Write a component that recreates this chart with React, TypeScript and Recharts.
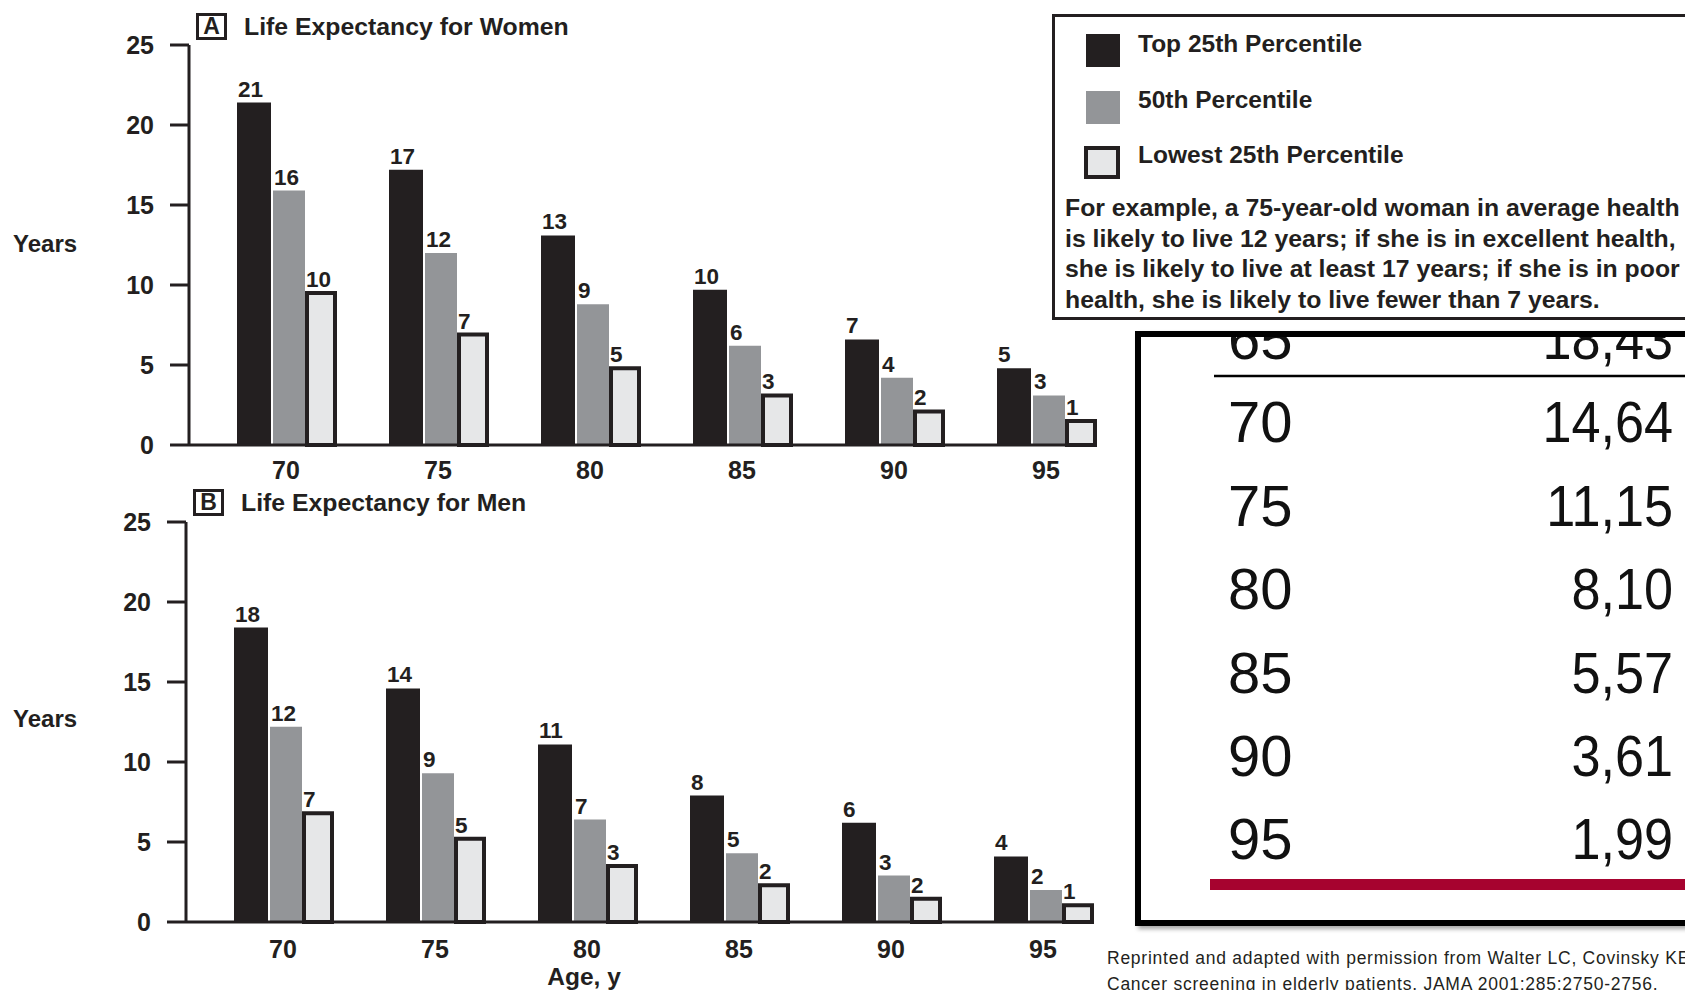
import React from "react";
import { BarChart, Bar, XAxis, YAxis, LabelList } from "recharts";

const AGES = ["70", "75", "80", "85", "90", "95"];
const Y_TICKS = [0, 5, 10, 15, 20, 25];

// bar heights as drawn, and the numbers printed above them
const WOMEN_TOP = [21.4, 17.2, 13.1, 9.7, 6.6, 4.8];
const WOMEN_MID = [15.9, 12.0, 8.8, 6.2, 4.2, 3.1];
const WOMEN_LOW = [9.5, 6.9, 4.8, 3.1, 2.1, 1.5];
const WOMEN_TOP_LABELS = [21, 17, 13, 10, 7, 5];
const WOMEN_MID_LABELS = [16, 12, 9, 6, 4, 3];
const WOMEN_LOW_LABELS = [10, 7, 5, 3, 2, 1];

const MEN_TOP = [18.4, 14.6, 11.1, 7.9, 6.2, 4.1];
const MEN_MID = [12.2, 9.3, 6.4, 4.3, 2.9, 2.0];
const MEN_LOW = [6.8, 5.2, 3.5, 2.3, 1.45, 1.05];
const MEN_TOP_LABELS = [18, 14, 11, 8, 6, 4];
const MEN_MID_LABELS = [12, 9, 7, 5, 3, 2];
const MEN_LOW_LABELS = [7, 5, 3, 2, 2, 1];

const TABLE_AGES = ["65", "70", "75", "80", "85", "90", "95"];
const TABLE_VALUES = ["18,43", "14,64", "11,15", "8,10", "5,57", "3,61", "1,99"];

const INK = "#231f20";
const GRAY = "#939598";
const LIGHT = "#e6e7e8";
const FONT = "'Liberation Sans', Arial, Helvetica, sans-serif";

const buildRows = (top, mid, low, topL, midL, lowL) =>
  AGES.map((age, i) => ({
    age,
    top: top[i],
    mid: mid[i],
    low: low[i],
    topLabel: topL[i],
    midLabel: midL[i],
    lowLabel: lowL[i],
  }));

const womenRows = buildRows(WOMEN_TOP, WOMEN_MID, WOMEN_LOW, WOMEN_TOP_LABELS, WOMEN_MID_LABELS, WOMEN_LOW_LABELS);
const menRows = buildRows(MEN_TOP, MEN_MID, MEN_LOW, MEN_TOP_LABELS, MEN_MID_LABELS, MEN_LOW_LABELS);

const valueLabel = (shift: number) => (props: any) => (
  <text
    x={props.x + shift}
    y={props.y - 6}
    fontSize={22.5}
    fontWeight={700}
    fill={INK}
    textAnchor="start"
  >
    {props.value}
  </text>
);

function PercentileChart({ rows, axisWidth, width, tickMargin }) {
  return (
    <BarChart
      width={width}
      height={500}
      data={rows}
      margin={{ top: 45, right: 4, left: 0, bottom: 25 }}
      barGap={2}
    >
      <XAxis
        dataKey="age"
        height={30}
        interval={0}
        padding={{ left: 21, right: -26 }}
        axisLine={{ stroke: INK, strokeWidth: 3 }}
        tickLine={false}
        tickSize={6}
        tickMargin={tickMargin}
        tick={{ fontSize: 25, fontWeight: 700, fill: INK }}
      />
      <YAxis
        domain={[0, 25]}
        ticks={Y_TICKS}
        interval={0}
        width={axisWidth}
        axisLine={{ stroke: INK, strokeWidth: 3 }}
        tickLine={{ stroke: INK, strokeWidth: 3 }}
        tickSize={19}
        tickMargin={16}
        tick={{ fontSize: 25, fontWeight: 700, fill: INK }}
      />
      <Bar dataKey="top" fill={INK} barSize={34} isAnimationActive={false}>
        <LabelList dataKey="topLabel" content={valueLabel(1)} />
      </Bar>
      <Bar dataKey="mid" fill={GRAY} barSize={32} isAnimationActive={false}>
        <LabelList dataKey="midLabel" content={valueLabel(1)} />
      </Bar>
      <Bar dataKey="low" fill={LIGHT} stroke={INK} strokeWidth={4} barSize={28} isAnimationActive={false}>
        <LabelList dataKey="lowLabel" content={valueLabel(-1)} />
      </Bar>
    </BarChart>
  );
}

const abs = (left, top, extra = {}) => ({ position: "absolute" as const, left, top, whiteSpace: "nowrap" as const, ...extra });

function PanelTitle({ letter, left, top, textLeft, textTop, text }) {
  return (
    <>
      <div
        style={abs(left, top, {
          width: 31, height: 27, boxSizing: "border-box", border: `3px solid ${INK}`,
          display: "flex", alignItems: "center", justifyContent: "center",
          fontSize: 23, fontWeight: 700, lineHeight: 1,
        })}
      >
        {letter}
      </div>
      <div style={abs(textLeft, textTop, { fontSize: 24.8, fontWeight: 700, lineHeight: 1 })}>{text}</div>
    </>
  );
}

function Legend() {
  const item = { fontSize: 24.5, fontWeight: 700, lineHeight: 1 };
  return (
    <div
      style={abs(1052, 14, {
        width: 700, height: 306, boxSizing: "border-box", border: `3px solid ${INK}`, background: "#fff",
      })}
    >
      <div style={abs(31, 17, { width: 34, height: 33, background: INK })} />
      <div style={abs(83, 15, item)}>Top 25th Percentile</div>
      <div style={abs(31, 74, { width: 34, height: 33, background: GRAY })} />
      <div style={abs(83, 71, item)}>50th Percentile</div>
      <div
        style={abs(29, 129, {
          width: 36, height: 33, boxSizing: "border-box", background: LIGHT, border: `4px solid ${INK}`,
        })}
      />
      <div style={abs(83, 126, item)}>Lowest 25th Percentile</div>
      <div style={abs(10, 176, { fontSize: 24.8, fontWeight: 700, lineHeight: "30.7px" })}>
        For example, a 75-year-old woman in average health
        <br />
        is likely to live 12 years; if she is in excellent health,
        <br />
        she is likely to live at least 17 years; if she is in poor
        <br />
        health, she is likely to live fewer than 7 years.
      </div>
    </div>
  );
}

function AgeTable() {
  const ox = 1120;
  const oy = 320;
  return (
    <svg style={abs(ox, oy)} width={565} height={620}>
      <defs>
        <filter id="tshadow" x="-10%" y="-10%" width="130%" height="130%">
          <feDropShadow dx="3" dy="3" stdDeviation="2" floodColor="#000" floodOpacity="0.35" />
        </filter>
        <clipPath id="tclip">
          <rect x={1141} y={337} width={600} height={583} />
        </clipPath>
      </defs>
      <g transform={`translate(${-ox},${-oy})`}>
        <rect x={1138} y={334} width={620} height={589} fill="#fff" stroke="#000" strokeWidth={6} filter="url(#tshadow)" />
        <g clipPath="url(#tclip)">
          <line x1={1214} x2={1720} y1={376} y2={376} stroke="#000" strokeWidth={2.5} />
          <rect x={1210} y={879} width={520} height={11} fill="#a6032f" />
          {TABLE_AGES.map((a, i) => {
            const base = 338 + i * 83.4 + 21;
            return (
              <g key={a}>
                <text x={1228} y={base} fontSize={58} fill="#111" fontFamily={FONT}>
                  {a}
                </text>
                <text
                  x={1673 / 0.9}
                  y={base}
                  fontSize={58}
                  fill="#111"
                  fontFamily={FONT}
                  textAnchor="end"
                  transform="scale(0.9,1)"
                >
                  {TABLE_VALUES[i]}
                </text>
              </g>
            );
          })}
        </g>
        <line x1={1445} x2={1445} y1={334} y2={923} stroke="#000" strokeWidth={7} filter="url(#tshadow)" />
      </g>
    </svg>
  );
}

export default function App() {
  return (
    <div
      style={{
        position: "fixed", left: 0, top: 0, width: 1685, height: 990, overflow: "hidden",
        background: "#fff", fontFamily: FONT, color: INK,
      }}
    >
      <div style={abs(0, 0)}>
        <PercentileChart rows={womenRows} axisWidth={189} width={1100} tickMargin={10} />
      </div>
      <div style={abs(0, 477)}>
        <PercentileChart rows={menRows} axisWidth={186} width={1097} tickMargin={12} />
      </div>

      <PanelTitle letter="A" left={196} top={13} textLeft={244} textTop={15} text="Life Expectancy for Women" />
      <PanelTitle letter="B" left={193} top={489} textLeft={241} textTop={491} text="Life Expectancy for Men" />

      <div style={abs(13, 232, { fontSize: 24, fontWeight: 700, lineHeight: 1 })}>Years</div>
      <div style={abs(13, 707, { fontSize: 24, fontWeight: 700, lineHeight: 1 })}>Years</div>
      <div style={abs(584, 965, { fontSize: 24.5, fontWeight: 700, lineHeight: 1, transform: "translateX(-50%)" })}>
        Age, y
      </div>

      <AgeTable />
      <Legend />

      <div style={abs(1107, 945, { fontSize: 17.5, letterSpacing: 0.75, lineHeight: "26px" })}>
        Reprinted and adapted with permission from Walter LC, Covinsky KE
        <br />
        Cancer screening in elderly patients. JAMA 2001;285:2750-2756.
      </div>
    </div>
  );
}
